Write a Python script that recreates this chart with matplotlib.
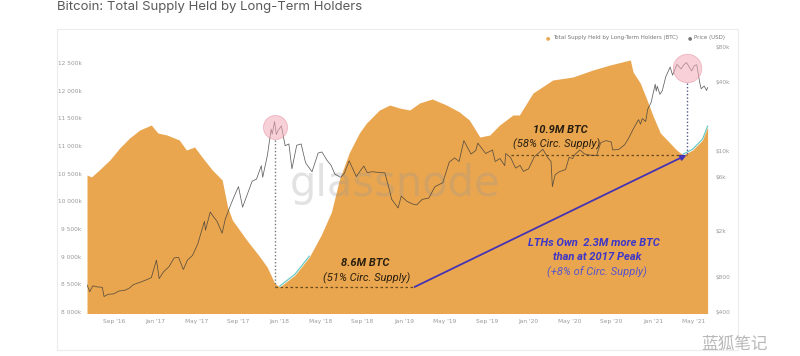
import matplotlib
matplotlib.use('Agg')
import matplotlib.pyplot as plt
import matplotlib.dates as mdates
import numpy as np
import pandas as pd
from matplotlib.patches import Rectangle

# LTH supply (thousand BTC)
supply_dates = ['2016-06-14', '2016-06-27', '2016-07-20', '2016-08-20', '2016-09-18', '2016-10-17',
                '2016-11-16', '2016-12-20', '2017-01-08', '2017-02-04', '2017-03-12', '2017-04-02',
                '2017-04-26', '2017-05-18', '2017-06-17', '2017-07-16', '2017-08-01', '2017-08-15',
                '2017-09-26', '2017-11-04', '2017-11-25', '2017-12-17', '2018-01-01', '2018-02-15',
                '2018-03-29', '2018-05-03', '2018-06-02', '2018-06-25', '2018-07-24', '2018-08-23',
                '2018-09-13', '2018-10-21', '2018-11-20', '2018-12-19', '2019-01-18', '2019-02-16',
                '2019-03-25', '2019-05-06', '2019-06-13', '2019-07-12', '2019-08-12', '2019-09-10',
                '2019-10-09', '2019-11-17', '2019-12-06', '2020-01-15', '2020-03-13', '2020-05-11',
                '2020-07-09', '2020-08-28', '2020-10-27', '2020-11-04', '2020-11-25', '2020-12-15',
                '2021-01-03', '2021-01-23', '2021-02-12', '2021-03-12', '2021-03-31', '2021-04-28',
                '2021-05-27', '2021-06-11']
supply_k = [10476, 10440, 10566, 10747, 10963, 11144, 11289, 11379, 11235, 11198, 11108, 10927,
            10982, 10800, 10566, 10385, 9897, 9662, 9301, 8994, 8813, 8524, 8452, 8669,
            8994, 9391, 9807, 10385, 10873, 11235, 11415, 11650, 11740, 11686, 11650, 11777,
            11849, 11740, 11614, 11469, 11162, 11198, 11379, 11560, 11560, 11957, 12192, 12246,
            12373, 12463, 12554, 12337, 12138, 11831, 11524, 11235, 11108, 10927, 10837, 10927,
            11108, 11343]

# BTC price (USD)
price_dates = ['2016-06-14', '2016-06-22', '2016-07-01', '2016-07-15', '2016-07-29', '2016-08-03',
               '2016-08-15', '2016-09-01', '2016-09-15', '2016-10-01', '2016-10-15', '2016-10-28',
               '2016-11-08', '2016-11-20', '2016-12-05', '2016-12-20', '2017-01-04', '2017-01-12',
               '2017-01-25', '2017-02-10', '2017-02-25', '2017-03-10', '2017-03-24', '2017-04-05',
               '2017-04-20', '2017-05-05', '2017-05-25', '2017-05-28', '2017-06-11', '2017-06-20',
               '2017-07-01', '2017-07-16', '2017-07-25', '2017-08-10', '2017-08-25', '2017-09-02',
               '2017-09-14', '2017-09-28', '2017-10-12', '2017-10-25', '2017-11-08', '2017-11-12',
               '2017-11-26', '2017-12-07', '2017-12-10', '2017-12-17', '2017-12-22', '2017-12-28',
               '2018-01-06', '2018-01-17', '2018-01-28', '2018-02-06', '2018-02-20', '2018-03-05',
               '2018-03-18', '2018-04-06', '2018-04-24', '2018-05-05', '2018-05-20', '2018-06-01',
               '2018-06-12', '2018-06-29', '2018-07-10', '2018-07-24', '2018-08-14', '2018-08-30',
               '2018-09-05', '2018-09-15', '2018-10-01', '2018-10-20', '2018-11-06', '2018-11-20',
               '2018-11-26', '2018-12-15', '2018-12-24', '2019-01-10', '2019-01-28', '2019-02-07',
               '2019-02-24', '2019-03-15', '2019-04-02', '2019-04-25', '2019-05-14', '2019-05-30',
               '2019-06-12', '2019-06-26', '2019-07-17', '2019-07-31', '2019-08-06', '2019-08-29',
               '2019-09-18', '2019-09-26', '2019-10-10', '2019-10-24', '2019-10-27', '2019-11-10',
               '2019-11-25', '2019-12-08', '2019-12-18', '2020-01-02', '2020-01-19', '2020-02-13',
               '2020-02-28', '2020-03-08', '2020-03-12', '2020-03-20', '2020-04-01', '2020-04-20',
               '2020-04-30', '2020-05-10', '2020-05-20', '2020-06-01', '2020-06-15', '2020-07-01',
               '2020-07-20', '2020-08-01', '2020-08-17', '2020-09-01', '2020-09-05', '2020-09-23',
               '2020-10-10', '2020-10-22', '2020-11-05', '2020-11-20', '2020-11-26', '2020-12-01',
               '2020-12-11', '2020-12-17', '2020-12-27', '2021-01-08', '2021-01-11', '2021-01-14',
               '2021-01-22', '2021-01-29', '2021-02-08', '2021-02-21', '2021-02-28', '2021-03-13',
               '2021-03-25', '2021-04-02', '2021-04-10', '2021-04-25', '2021-05-03', '2021-05-10',
               '2021-05-13', '2021-05-19', '2021-05-23', '2021-06-01', '2021-06-08', '2021-06-11']
price_usd = [690, 600, 675, 660, 655, 545, 570, 575, 608, 615, 640, 690,
             710, 730, 760, 795, 1130, 780, 895, 990, 1180, 1190, 935, 1130,
             1240, 1550, 2450, 2050, 2950, 2700, 2450, 1930, 2550, 3400, 4350, 4900,
             3250, 4200, 5450, 5700, 7450, 5900, 9200, 15500, 14000, 18000, 13900, 15200,
             16500, 11100, 11500, 7000, 11200, 11500, 7900, 6600, 9600, 9800, 8300, 7500,
             6300, 5900, 6400, 8200, 6000, 7000, 7400, 6500, 6600, 6500, 6450, 4500,
             3800, 3200, 4050, 3650, 3450, 3400, 3800, 3900, 4900, 5300, 8000, 8700,
             8100, 12300, 9400, 10100, 11700, 9500, 10200, 8100, 8600, 7450, 9500, 8800,
             7100, 7500, 6650, 7000, 8900, 10350, 8700, 8100, 4900, 6200, 6600, 6900,
             8800, 8600, 9500, 10200, 9400, 9200, 9150, 11800, 12300, 11950, 10200, 10300,
             11300, 12900, 15600, 18700, 17100, 19100, 18000, 23000, 26300, 38000, 33000, 36500,
             31000, 33500, 44000, 53500, 45500, 56500, 51500, 56000, 58500, 49500, 55000, 56000,
             49500, 39000, 34700, 36600, 33500, 35500]

left_ticks = [8000, 8500, 9000, 9500, 10000, 10500, 11000, 11500, 12000, 12500]
right_ticks = [400, 800, 2000, 6000, 10000, 40000, 80000]
right_labels = ['$400', '$800', '$2k', '$6k', '$10k', '$40k', '$80k']

ORANGE = '#E9A64F'
INDIGO = '#4533B3'
TICK = '#9a9a9a'

s = pd.Series(supply_k, index=pd.to_datetime(supply_dates))
p = pd.Series(price_usd, index=pd.to_datetime(price_dates))

fig = plt.figure(figsize=(8, 3.56), dpi=100)
fig.patches.append(Rectangle((57 / 800, 1 - 350 / 356), 681 / 800, 321 / 356,
                             transform=fig.transFigure, fill=False, ec='#ececec', lw=0.8))

ax = fig.add_axes([87 / 800, 1 - 313 / 356, 623 / 800, 271 / 356])
ax.fill_between(s.index, s.values, 7000, color=ORANGE, lw=0, zorder=1)
ax.set_ylim(8000 - 18.07, 8000 + 270 * 18.07)
ax.set_xlim(pd.Timestamp('2016-06-14'), pd.Timestamp('2021-06-18'))
ax.set_yticks(left_ticks)
ax.set_yticklabels([f'{v:,}'.replace(',', ' ') + 'k' for v in left_ticks])
ax.xaxis.set_major_locator(mdates.MonthLocator(bymonth=[1, 5, 9]))
ax.xaxis.set_major_formatter(mdates.DateFormatter("%b '%y"))
ax.tick_params(length=0, labelsize=4.2, colors=TICK, pad=4)
for sp in ax.spines.values():
    sp.set_visible(False)

ax2 = ax.twinx()
ax2.set_yscale('log')
ax2.set_ylim(400 * 10 ** (-1 / 115.2), 400 * 10 ** (270 / 115.2))
ax2.plot(p.index, p.values, color='#383838', lw=0.55, alpha=0.8, zorder=3)
ax2.set_yticks(right_ticks)
ax2.set_yticklabels(right_labels)
ax2.yaxis.set_minor_locator(matplotlib.ticker.NullLocator())
ax2.tick_params(length=0, labelsize=4.2, colors=TICK, pad=4)
for sp in ax2.spines.values():
    sp.set_visible(False)


def sup_to_price(v):
    y = ax.transData.transform((0, v))[1]
    return ax2.transData.inverted().transform((0, y))[1]


# trend segments in teal
t1 = s['2018-01-01':'2018-03-29']
t2 = s['2021-03-31':]
ax.plot(t1.index, t1.values + 15, color='#5cc6c2', lw=0.8, zorder=4)
ax.plot(t2.index, t2.values + 15, color='#5cc6c2', lw=0.8, zorder=4)

# price peaks
pk17 = p['2017'].idxmax()
pk21 = p.idxmax()
ax2.scatter([pk17], [p[pk17] * 10 ** (-5 / 115.2)], s=300, color='#f3aab8', alpha=0.55,
            ec='#e48a9c', lw=0.6, zorder=5)
ax2.scatter([pk21], [p[pk21] * 10 ** (-5 / 115.2)], s=420, color='#f3aab8', alpha=0.55,
            ec='#e48a9c', lw=0.6, zorder=5)

low = s.min()
low_date = pk17
lvl_r = s['2021'].min()
arrow_start = pd.Timestamp('2019-02-01')

ax2.plot([pk17, pk17], [p[pk17] * 10 ** (-18 / 115.2), sup_to_price(low)],
         color='#777777', lw=1.0, ls=(0, (1, 1.5)), zorder=6)
ax2.plot([pk21, pk21], [p[pk21] * 10 ** (-20 / 115.2), sup_to_price(lvl_r)],
         color='#555a8a', lw=1.0, ls=(0, (1, 1.5)), zorder=6)

ax.plot([low_date, arrow_start], [low, low], color='#6b4a1e', lw=0.9, ls=(0, (2, 2)), zorder=6)
ax.plot([pd.Timestamp('2019-11-10'), pk21], [lvl_r, lvl_r], color='#6b4a1e', lw=0.9,
        ls=(0, (2, 2)), zorder=6)
ax.annotate('', xy=(pk21, lvl_r), xytext=(arrow_start, low), zorder=7,
            arrowprops=dict(arrowstyle='-|>', color=INDIGO, lw=1.3, mutation_scale=8,
                            shrinkA=0, shrinkB=0))

# watermark
ax.text(0.495, 0.475, 'glassnode', transform=ax.transAxes, ha='center', va='center',
        fontsize=30, color='#9a9a9a', alpha=0.28, family='DejaVu Sans', zorder=2)


def ftext(x, y, txt, **kw):
    fig.text(x / 800, 1 - y / 356, txt, ha='center', va='center', family='Roboto', **kw)


ftext(365, 263, '8.6M BTC', fontsize=8, fontweight='bold', style='italic', color='#2a1e10')
ftext(367, 278, '(51% Circ. Supply)', fontsize=8, style='italic', color='#2a1e10')
ftext(560, 130, '10.9M BTC', fontsize=8, fontweight='bold', style='italic', color='#2a1e10')
ftext(557, 144, '(58% Circ. Supply)', fontsize=8, style='italic', color='#2a1e10')
ftext(594, 243, 'LTHs Own  2.3M more BTC', fontsize=8, fontweight='bold', style='italic',
      color='#3d36c8')
ftext(597, 257, 'than at 2017 Peak', fontsize=8, fontweight='bold', style='italic', color='#3d36c8')
ftext(597, 272, '(+8% of Circ. Supply)', fontsize=8, style='italic', color='#5a55cc')

# title
fig.text(57 / 800, 1 - 7 / 356, 'Bitcoin: Total Supply Held by Long-Term Holders', ha='left',
         va='center', fontsize=9.5, color='#5a5a5a', family='Inter')

# legend
fig.text(548 / 800, 1 - 38 / 356, '●', color=ORANGE, fontsize=3.5, ha='center', va='center')
fig.text(553 / 800, 1 - 38 / 356, 'Total Supply Held by Long-Term Holders (BTC)', fontsize=4,
         color='#777777', ha='left', va='center')
fig.text(690 / 800, 1 - 38 / 356, '●', color='#777777', fontsize=3.5, ha='center', va='center')
fig.text(694 / 800, 1 - 38 / 356, 'Price (USD)', fontsize=4, color='#777777', ha='left',
         va='center')

# bottom-right watermark
fig.text(735 / 800, 1 - 344 / 356, '蓝狐笔记', fontsize=12, color='#b8b8b8', ha='center',
         va='center', family=['Noto Sans CJK SC', 'DejaVu Sans'])

fig.savefig('out.png', dpi=100)
